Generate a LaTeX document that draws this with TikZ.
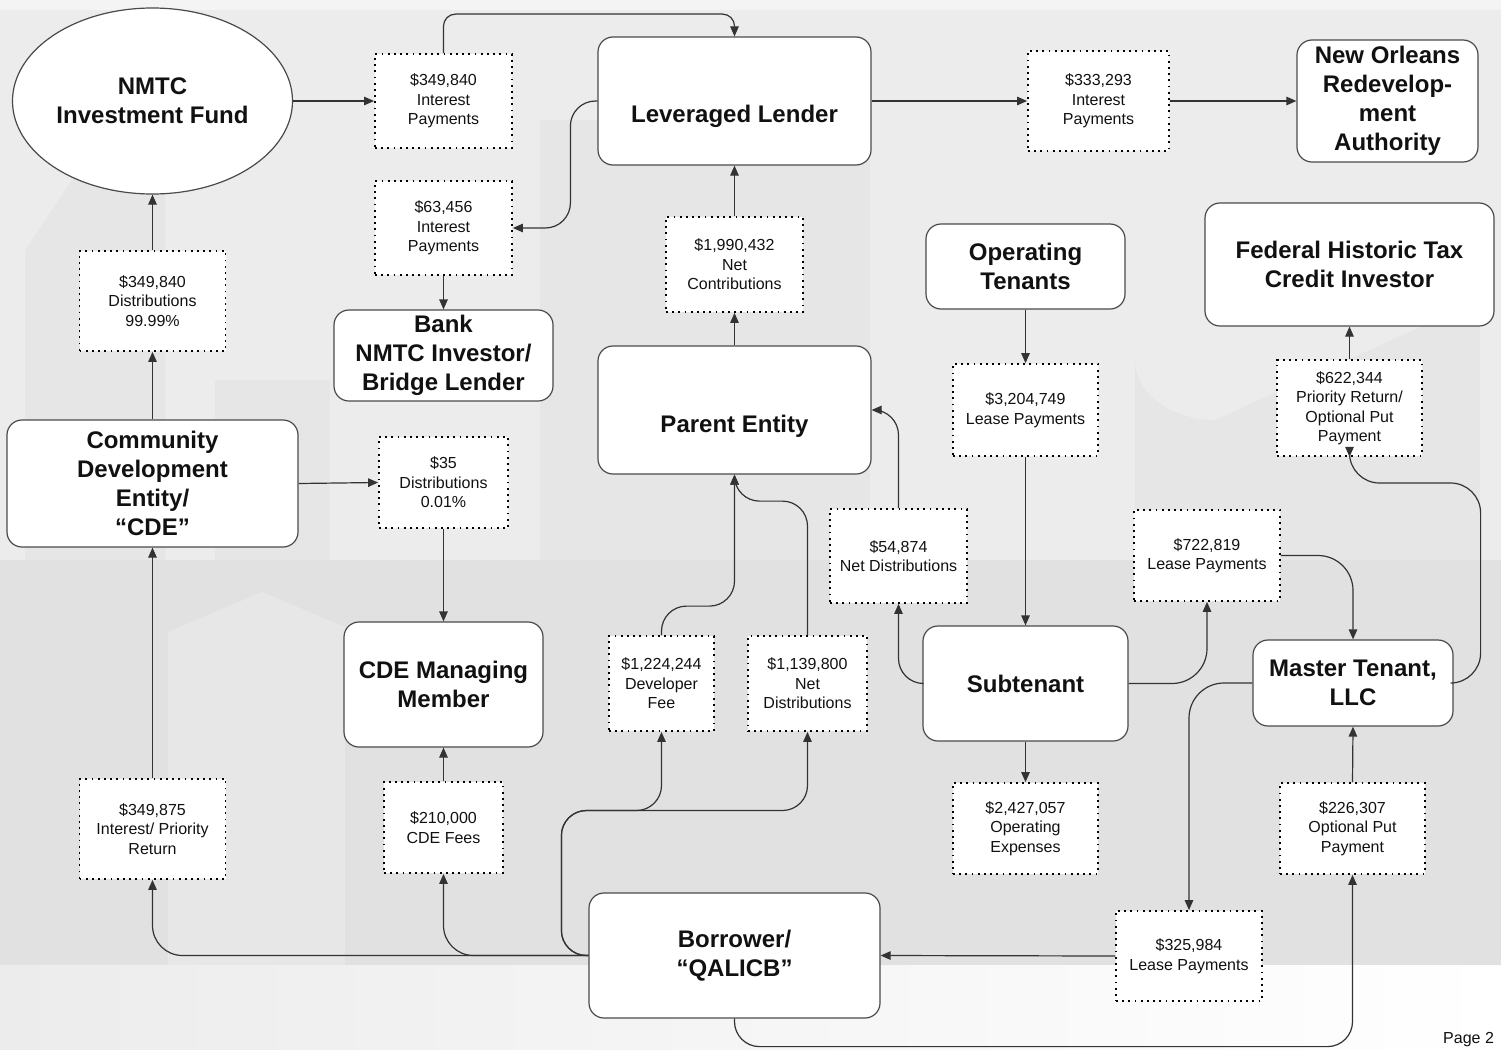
\documentclass[tikz,border=0pt]{standalone}
\usepackage{fontspec}
\setmainfont{Liberation Sans}
\usetikzlibrary{shapes.geometric,arrows.meta}
\definecolor{bgA}{HTML}{F4F4F4}
\definecolor{bgB}{HTML}{ECECEC}
\definecolor{bgC}{HTML}{E6E6E6}
\definecolor{bgD}{HTML}{E1E1E1}
\definecolor{bgE}{HTML}{E7E7E7}
\definecolor{edge}{HTML}{4A4A4A}
\definecolor{lnc}{HTML}{333333}
\definecolor{txt}{HTML}{111111}
\begin{document}
\begin{tikzpicture}[x=1pt,y=-1pt,
  ent/.style={draw=edge, line width=1.2pt, fill=white, rounded corners=15pt,
    font=\bfseries\fontsize{24}{29}\selectfont, align=center, inner sep=0pt, text=txt},
  amt/.style={draw=black, line width=1.8pt, dash pattern=on 1.8pt off 4.4pt, fill=white,
    font=\fontsize{16}{19.5}\selectfont, align=center, inner sep=0pt, text=txt},
  flow/.style={draw=lnc, line width=1.2pt, -{Triangle[length=10pt,width=8.5pt]}, rounded corners=25pt},
  pagelbl/.style={font=\fontsize{16}{19}\selectfont, text=txt, anchor=base west, inner sep=0pt}
]
\useasboundingbox (0,0) rectangle (1501,1049);
% ---------- background ----------
\fill[bgA] (0,0) rectangle (1501,1049);
\fill[bgB] (0,10) rectangle (1501,965);
\fill[bgC] (25,250) -- (80,168) -- (165,168) -- (165,560) -- (25,560) -- cycle;
\fill[bgC] (215,380) rectangle (330,560);
\fill[bgC] (540,120) rectangle (870,560);
\fill[bgC] (1135,560) -- (1135,360) arc[start angle=180, end angle=90, x radius=80, y radius=60] -- (1480,300) -- (1480,560) -- cycle;
\fill[bgD] (0,560) rectangle (1501,965);
\fill[bgE] (168,965) -- (168,632) -- (262,592) -- (345,627) -- (345,965) -- cycle;
\shade[left color=bgB, right color=white] (0,965) rectangle (1501,1049);
% ---------- entities ----------
\node[ent, ellipse, rounded corners=0pt, minimum width=280pt, minimum height=186pt] (nmtc) at (152.5,101) {NMTC\\Investment Fund};
\node[ent, minimum width=273pt, minimum height=128pt, text height=43pt, text depth=0pt] (LL) at (734.5,101) {Leveraged Lender};
\node[ent, minimum width=181pt, minimum height=122pt] (nora) at (1387.5,101) {New Orleans\\Redevelop-\\ment\\Authority};
\node[ent, minimum width=199pt, minimum height=85pt] (OT) at (1025.5,266.5) {Operating\\Tenants};
\node[ent, minimum width=289pt, minimum height=123pt] (FHTC) at (1349.5,264.5) {Federal Historic Tax\\Credit Investor};
\node[ent, minimum width=219pt, minimum height=91pt] (bank) at (443.5,355.5) {Bank\\NMTC Investor/\\Bridge Lender};
\node[ent, minimum width=273pt, minimum height=128pt, text height=45pt, text depth=0pt] (PE) at (734.5,410) {Parent Entity};
\node[ent, minimum width=291pt, minimum height=127pt] (CDE) at (152.5,483.5) {Community\\Development\\Entity/\\“CDE”};
\node[ent, minimum width=199pt, minimum height=125pt] (CDEMM) at (443.5,684.5) {CDE Managing\\Member};
\node[ent, minimum width=205pt, minimum height=115pt] (Sub) at (1025.5,683.5) {Subtenant};
\node[ent, minimum width=200pt, minimum height=86pt] (MT) at (1353,683) {Master Tenant,\\LLC};
\node[ent, minimum width=291pt, minimum height=125pt] (Bor) at (734.5,955.5) {Borrower/\\“QALICB”};
% ---------- amounts ----------
\node[amt, minimum width=137pt, minimum height=94pt] (a1) at (443.5,101) {\$349,840\\Interest\\Payments};
\node[amt, minimum width=141pt, minimum height=100pt] (a333) at (1098.5,101) {\$333,293\\Interest\\Payments};
\node[amt, minimum width=137pt, minimum height=94pt] (a63) at (443.5,228) {\$63,456\\Interest\\Payments};
\node[amt, minimum width=137pt, minimum height=95pt] (a1990) at (734.5,264.5) {\$1,990,432\\Net\\Contributions};
\node[amt, minimum width=146pt, minimum height=100pt] (aDist) at (152.5,301) {\$349,840\\Distributions\\99.99\%};
\node[amt, minimum width=129pt, minimum height=91pt] (a35) at (443.5,482.5) {\$35\\Distributions\\0.01\%};
\node[amt, minimum width=145pt, minimum height=92pt] (a3204) at (1025.5,410) {\$3,204,749\\Lease Payments};
\node[amt, minimum width=145pt, minimum height=96pt] (a622) at (1349.5,408) {\$622,344\\Priority Return/\\Optional Put\\Payment};
\node[amt, minimum width=137pt, minimum height=94pt] (a54) at (898.5,556) {\$54,874\\Net Distributions};
\node[amt, minimum width=146pt, minimum height=91pt] (a722) at (1207,555.5) {\$722,819\\Lease Payments};
\node[amt, minimum width=105pt, minimum height=95pt] (a1224) at (661.5,683.5) {\$1,224,244\\Developer\\Fee};
\node[amt, minimum width=119pt, minimum height=95pt] (a1139) at (807.5,683.5) {\$1,139,800\\Net\\Distributions};
\node[amt, minimum width=146pt, minimum height=100pt] (a349875) at (152.5,829) {\$349,875\\Interest/ Priority\\Return};
\node[amt, minimum width=119pt, minimum height=91pt] (a210) at (443.5,827.5) {\$210,000\\CDE Fees};
\node[amt, minimum width=145pt, minimum height=91pt] (a2427) at (1025.5,828.5) {\$2,427,057\\Operating\\Expenses};
\node[amt, minimum width=145pt, minimum height=91pt] (a226) at (1352.5,828.5) {\$226,307\\Optional Put\\Payment};
\node[amt, minimum width=146pt, minimum height=90pt] (a325) at (1189,956) {\$325,984\\Lease Payments};
\node[pagelbl] (pg) at (1443,1043) {Page 2};
% ---------- connectors ----------
\draw[flow] (nmtc.east) -- (a1.west);
\draw[flow, rounded corners=12pt] (a1.north) -- ++(0,-39) -| (LL.north);
\draw[flow] (LL.east) -- (a333.west);
\draw[flow] (a333.east) -- (nora.west);
\draw[flow] (LL.west) -- ++(-27,0) |- (a63.east);
\draw[flow] (a63.south) -- (bank.north);
\draw[flow] (a1990.north) -- (LL.south);
\draw[flow] (PE.north) -- (a1990.south);
\draw[flow] (aDist.north) -- (nmtc.south);
\draw[flow] (CDE.north) -- (aDist.south);
\draw[flow] (CDE.east) -- (a35.west);
\draw[flow] (a35.south) -- (CDEMM.north);
\draw[flow] (a349875.north) -- (CDE.south);
\draw[flow] (a210.north) -- (CDEMM.south);
\draw[flow, rounded corners=30pt] (Bor.west) -| (a349875.south);
\draw[flow, rounded corners=30pt] (Bor.west) -| (a210.south);
\draw[flow] (Bor.west) -- ++(-27,0) -- ++(0,-145) -| (a1224.south);
\draw[flow] (Bor.west) -- ++(-27,0) -- ++(0,-145) -| (a1139.south);
\draw[flow] (a1224.north) -- ++(0,-29) -| (PE.south);
\draw[flow] (a1139.north) -- ++(0,-134) -| (PE.south);
\draw[flow] (a54.north) |- (PE.east);
\draw[flow] (Sub.west) -| (a54.south);
\draw[flow] (OT.south) -- (a3204.north);
\draw[flow] (a3204.south) -- (Sub.north);
\draw[flow] (Sub.south) -- (a2427.north);
\draw[flow, rounded corners=35pt] (Sub.east) -| (a722.south);
\draw[flow, rounded corners=35pt] (a722.east) -| (MT.north);
\draw[flow, rounded corners=30pt] (MT.east) -- ++(27,0) -- ++(0,-200) -| (a622.south);
\draw[flow] (a622.north) -- (FHTC.south);
\draw[flow, rounded corners=35pt] (MT.west) -| (a325.north);
\draw[flow] (a325.west) -- (Bor.east);
\draw[flow] (a226.north) -- (MT.south);
\draw[flow] (Bor.south) -- ++(0,28) -| (a226.south);
\end{tikzpicture}
\end{document}
